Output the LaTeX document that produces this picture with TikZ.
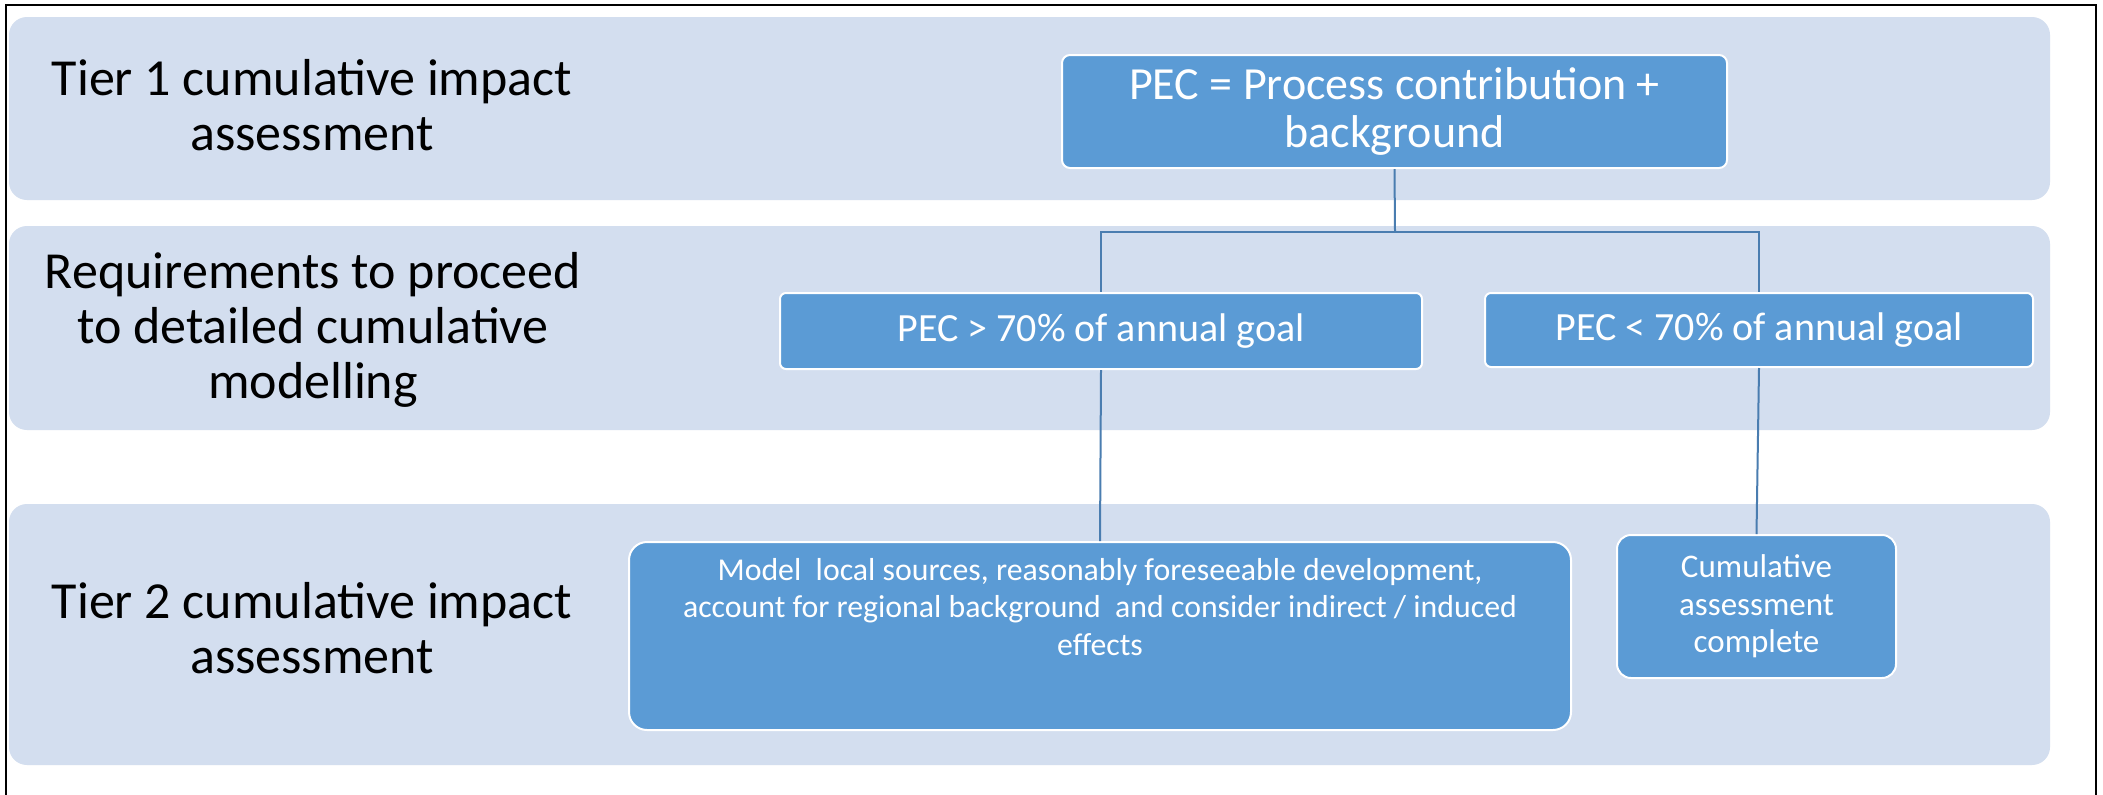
\documentclass[tikz,border=0pt]{standalone}
\usepackage{fontspec}
\setmainfont{Carlito}
\definecolor{bandblue}{HTML}{D3DEEF}
\definecolor{boxblue}{HTML}{5B9BD5}
\definecolor{linkblue}{HTML}{4A7DB0}
\begin{document}
\begin{tikzpicture}[x=0.5pt,y=-0.5pt,
  band/.style={fill=bandblue,draw=none,rounded corners=9pt},
  bluebox/.style={draw=white,line width=1pt,fill=boxblue,text=white,align=center,inner sep=0pt},
  lbl/.style={anchor=base,align=center,inner sep=0pt,font=\fontsize{26pt}{27.5pt}\selectfont},
  link/.style={draw=linkblue,line width=1pt}]
\useasboundingbox (0,0) rectangle (2103,794);
\fill[white] (0,0) rectangle (2103,794);
\draw[line width=1.3pt] (6,800) -- (6,5) -- (2096,5) -- (2096,800);
% bands
\path[band] (9,17) rectangle (2050,200);
\path[band] (9,226) rectangle (2050,430);
\path[band] (9,504) rectangle (2050,765);
% labels (base = last line)
\node[lbl] (t1) at (312,150) {Tier 1 cumulative impact\\assessment};
\node[lbl] (req) at (313,398) {Requirements to proceed\\to detailed cumulative\\modelling};
\node[lbl] (t2) at (312,673) {Tier 2 cumulative impact\\assessment};
% boxes
\node[bluebox,rounded corners=4pt,minimum width=332.5pt,minimum height=56.5pt,
  font=\fontsize{23pt}{24pt}\selectfont] (pec) at (1394.5,111.5)
  {PEC = Process contribution +\\background};
\node[bluebox,rounded corners=3pt,minimum width=321pt,minimum height=38pt,
  font=\fontsize{20pt}{24pt}\selectfont] (gt) at (1101,331)
  {PEC > 70\% of annual goal};
\node[bluebox,rounded corners=3pt,minimum width=274pt,minimum height=37pt,
  font=\fontsize{20pt}{24pt}\selectfont] (lt) at (1759,330)
  {PEC < 70\% of annual goal};
\node[bluebox,rounded corners=9pt,minimum width=471pt,minimum height=94pt] (model) at (1100,636) {};
\node[anchor=base,align=center,inner sep=0pt,text=white,
  font=\fontsize{15.9pt}{18.75pt}\selectfont] (modeltext) at (1100,655)
  {Model\ \ local sources, reasonably foreseeable development,\\account for regional background\ \ and consider indirect / induced\\effects};
\node[bluebox,rounded corners=7pt,minimum width=139.5pt,minimum height=71.5pt,
  font=\fontsize{16.5pt}{18.75pt}\selectfont] (done) at (1756.5,606.5)
  {Cumulative\\assessment\\complete};
% connectors
\coordinate (split) at (1395,232);
\draw[link] (pec.south) -- (split);
\draw[link] (split) -| (gt.north);
\draw[link] (split) -| (lt.north);
\draw[link] (gt.south) -- (model.north);
\draw[link] (lt.south) -- (done.north);
\end{tikzpicture}
\end{document}
